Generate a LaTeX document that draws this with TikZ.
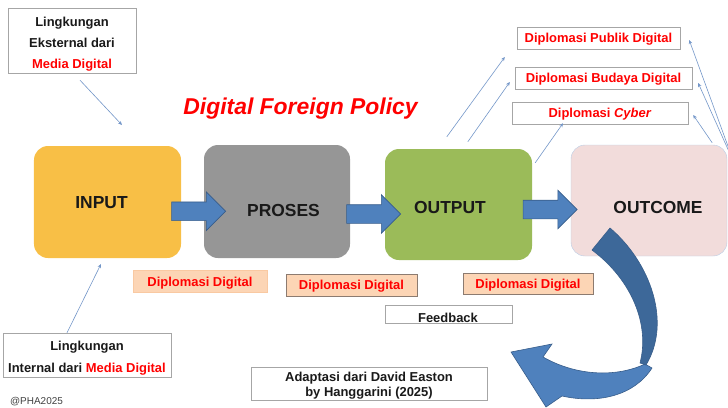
\documentclass[tikz,border=0pt]{standalone}
\usepackage{fontspec}
\setmainfont{Liberation Sans}
\usetikzlibrary{shapes.arrows,arrows.meta,calc}

\definecolor{inputorange}{HTML}{F8BF46}
\definecolor{prosesgray}{HTML}{969696}
\definecolor{outputgreen}{HTML}{9BBB59}
\definecolor{outcomepink}{HTML}{F2DCDB}
\definecolor{outcomeline}{HTML}{B9CDE5}
\definecolor{peach}{HTML}{FCD5B5}
\definecolor{peachline}{HTML}{F9C9A2}
\definecolor{peachdark}{HTML}{8C7B70}
\definecolor{arrowblue}{HTML}{4F81BD}
\definecolor{arrowline}{HTML}{385D8A}
\definecolor{curvedark}{HTML}{3D6899}
\definecolor{lineblue}{HTML}{7396C8}
\definecolor{boxgray}{HTML}{A6A6A6}

\tikzset{
  bigbox/.style={rounded corners=14bp, inner sep=0pt},
  bigtext/.style={font=\fontsize{17.5}{20}\selectfont\bfseries, text=black!90},
  labelbox/.style={draw=boxgray, fill=white, inner sep=0pt},
  labeltext/.style={align=center, inner sep=0pt, font=\fontsize{13}{21}\selectfont\bfseries, text=black!90},
  diplobox/.style={fill=peach, draw=peachdark, inner sep=0pt, minimum height=22bp,
    text height=12bp, text depth=3bp, text=red, font=\fontsize{13}{15}\selectfont\bfseries},
  topbox/.style={draw=boxgray, fill=white, inner sep=0pt, minimum height=22bp,
    text height=12bp, text depth=3bp, text=red, font=\fontsize{13}{15}\selectfont\bfseries},
  blockarrow/.style={single arrow, single arrow head extend=10bp, inner xsep=0pt,
    inner ysep=9bp, minimum height=54bp, fill=arrowblue, draw=arrowline, line width=0.6bp},
  thinarr/.style={draw=lineblue, line width=0.6bp, -{Stealth[length=4bp,width=3.5bp]}}
}

\begin{document}
\begin{tikzpicture}[x=1bp,y=-1bp]
  \useasboundingbox (0,0) rectangle (728,407);

  % the four stages
  \node[bigbox, fill=inputorange, minimum width=147bp, minimum height=112bp] (input) at (107.5,202) {};
  \node[bigbox, fill=prosesgray, minimum width=146bp, minimum height=113bp] (proses) at (277,201.5) {};
  \node[bigbox, fill=outputgreen, minimum width=147bp, minimum height=111bp] (output) at (458.5,204.5) {};
  \node[bigbox, fill=outcomepink, draw=outcomeline, minimum width=156bp, minimum height=111bp] (outcome) at (649,200.5) {};
  \node[bigtext] (inputtxt) at (101.5,203) {INPUT};
  \node[bigtext] (prosestxt) at (283.5,210) {PROSES};
  \node[bigtext] (outputtxt) at (450,207) {OUTPUT};
  \node[bigtext] (outcometxt) at (658,207.5) {OUTCOME};

  % block arrows between the stages
  \node[blockarrow] (arrA) at ($(input.east)!0.5!(proses.west)+(1.5,9.5)$) {};
  \node[blockarrow] (arrB) at ($(proses.east)!0.5!(output.west)+(1.5,11)$) {};
  \node[blockarrow] (arrC) at ($(output.east)!0.5!(outcome.west)+(-6,7)$) {};

  % title
  \node[text=red, font=\fontsize{23}{26}\selectfont\bfseries\itshape] (title) at (300.5,109) {Digital Foreign Policy};

  % environment boxes
  \node[labelbox, minimum width=128bp, minimum height=65bp] (ext) at (72,40.5) {};
  \node[labeltext] (exttxt) at ($(ext)+(0,4)$) {Lingkungan\\Eksternal dari\\{\color{red}Media Digital}};
  \node[labelbox, minimum width=168bp, minimum height=44bp] (int) at (87,355) {};
  \node[labeltext, font=\fontsize{13}{22}\selectfont\bfseries] (inttxt) at ($(int)+(0,3)$)
    {Lingkungan\\Internal dari {\color{red}Media Digital}};
  \coordinate (extpt) at (122,125);
  \coordinate (intpt) at (101,264);
  \draw[thinarr] ($(ext.south)+(8,7)$) -- (extpt);
  \draw[thinarr] ($(int.north)+(-20,0)$) -- (intpt);

  % outcome boxes
  \node[topbox, minimum width=163bp] (publik) at (598.5,38) {Diplomasi Publik Digital};
  \node[topbox, minimum width=177bp] (budaya) at (603.5,78) {Diplomasi Budaya Digital};
  \node[topbox, minimum width=176bp] (cyber) at (600,113) {Diplomasi \textit{Cyber}};
  \draw[thinarr] ($(output.north west)+(62,-12)$) -- ($(publik.west)+(-12,19)$);
  \draw[thinarr] ($(output.north west)+(83,-7)$) -- ($(budaya.west)+(-5,4)$);
  \draw[thinarr] ($(output.north east)+(3,14)$) -- ($(cyber.south)+(-37,-1)$);
  \draw[thinarr] ($(outcome.north east)+(1,2)$) -- ($(publik.east)+(9,2)$);
  \draw[thinarr] ($(outcome.north east)+(1,5)$) -- ($(budaya.east)+(6,5)$);
  \draw[thinarr] ($(outcome.north east)+(-15,-2)$) -- ($(cyber.east)+(5,2)$);

  % labels under the stages
  \node[diplobox, draw=peachline, minimum width=134bp] (dipA) at (200,281.5) {Diplomasi Digital};
  \node[diplobox, minimum width=131bp] (dipB) at (351.5,285) {Diplomasi Digital};
  \node[diplobox, minimum width=130bp, minimum height=21bp] (dipC) at (528,283.5) {Diplomasi Digital};
  \node[labelbox, minimum width=127bp, minimum height=18bp] (feedback) at (448.5,314) {};
  \node[font=\fontsize{13}{15}\selectfont\bfseries, text=black!90] (feedbacktxt) at (448,317.5) {Feedback};

  % feedback loop arrow
  \filldraw[fill=arrowblue, draw=arrowline, line width=0.6bp]
    (511,352) -- (552,344) -- (543,357)
    .. controls (580,378) and (620,376) .. (645,364)
    -- (652,368)
    .. controls (634,396) and (598,404) .. (562,396)
    -- (546,407) -- cycle;
  \filldraw[fill=curvedark, draw=arrowline, line width=0.6bp]
    (592,250) -- (610,228)
    .. controls (650,262) and (672,322) .. (646,365)
    -- (640,363)
    .. controls (650,325) and (632,280) .. (592,250) -- cycle;

  % source
  \node[labelbox, minimum width=236bp, minimum height=33bp] (source) at (369,383.5) {};
  \node[labeltext, font=\fontsize{13}{15}\selectfont\bfseries] (sourcetxt) at ($(source)+(0,2.5)$)
    {Adaptasi dari David Easton\\by Hanggarini (2025)};
  \node[font=\fontsize{10}{12}\selectfont, text=black!75] (pha) at (36.5,402) {@PHA2025};
\end{tikzpicture}
\end{document}
